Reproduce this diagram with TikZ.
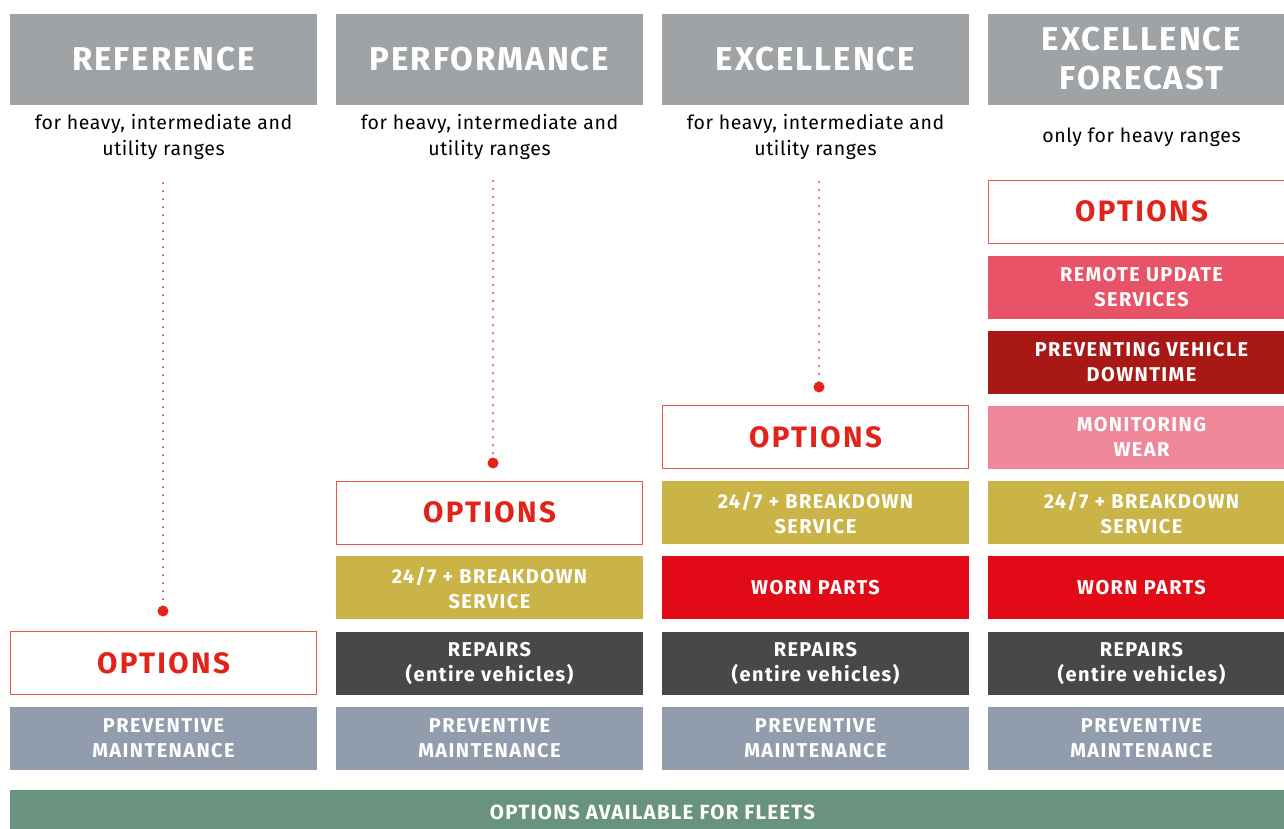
\documentclass[tikz,border=0pt]{standalone}
\usepackage{fontspec}
\setmainfont{Fira Sans}
\definecolor{hdr}{HTML}{A0A3A6}
\definecolor{prev}{HTML}{919CAD}
\definecolor{rep}{HTML}{474848}
\definecolor{worn}{HTML}{E20A17}
\definecolor{gold}{HTML}{CBB447}
\definecolor{monit}{HTML}{EE8799}
\definecolor{prevd}{HTML}{A81916}
\definecolor{remote}{HTML}{E85368}
\definecolor{optred}{HTML}{E2231A}
\definecolor{optborder}{HTML}{E8554F}
\definecolor{fleet}{HTML}{69937E}
\tikzset{
  x=1pt,y=-1pt,
  box/.style={minimum width=307pt,minimum height=63pt,inner sep=0pt,align=center,text=white,
    font=\fontsize{20}{25}\selectfont\bfseries\addfontfeatures{LetterSpace=7}},
  hbox/.style={minimum width=307pt,minimum height=91pt,inner sep=0pt,align=center,fill=hdr,text=white,
    font=\fontsize{33}{39}\selectfont\bfseries\addfontfeatures{LetterSpace=6}},
  optbox/.style={minimum width=306pt,minimum height=63pt,inner sep=0pt,draw=optborder,line width=1pt,fill=white,
    text=optred,font=\fontsize{29.5}{36}\selectfont\bfseries\addfontfeatures{LetterSpace=8}},
  sub/.style={align=center,font=\fontsize{19.5}{26}\selectfont\addfontfeatures{LetterSpace=3},text=black},
  dotline/.style={draw=optred,line width=2pt,dash pattern=on 0pt off 8pt,line cap=round},
  enddot/.style={fill=optred},
}
\begin{document}
\begin{tikzpicture}
\clip (0,0) rectangle (1284,828);
\fill[white] (0,0) rectangle (1284,828);
% headers
\node[hbox] (h1) at (163.5,59) {REFERENCE};
\node[hbox] (h2) at (489.5,59) {PERFORMANCE};
\node[hbox] (h3) at (815.5,59) {EXCELLENCE};
\node[hbox] (h4) at (1141.5,59) {EXCELLENCE\\FORECAST};
% subtitles
\node[sub] (s1) at (163.5,137) {for heavy, intermediate and\\utility ranges};
\node[sub] (s2) at (489.5,137) {for heavy, intermediate and\\utility ranges};
\node[sub] (s3) at (815.5,137) {for heavy, intermediate and\\utility ranges};
\node[sub] (s4) at (1141.5,137) {only for heavy ranges};
% column 1
\node[box,fill=prev] (p1) at (163.5,738.5) {PREVENTIVE\\MAINTENANCE};
\node[optbox] (o1) at (163.5,663) {OPTIONS};
% column 2
\node[box,fill=prev] (p2) at (489.5,738.5) {PREVENTIVE\\MAINTENANCE};
\node[box,fill=rep] (r2) at (489.5,663) {REPAIRS\\(entire vehicles)};
\node[box,fill=gold] (g2) at (489.5,587.5) {24/7 + BREAKDOWN\\SERVICE};
\node[optbox] (o2) at (489.5,512.5) {OPTIONS};
% column 3
\node[box,fill=prev] (p3) at (815.5,738.5) {PREVENTIVE\\MAINTENANCE};
\node[box,fill=rep] (r3) at (815.5,663) {REPAIRS\\(entire vehicles)};
\node[box,fill=worn] (w3) at (815.5,587.5) {WORN PARTS};
\node[box,fill=gold] (g3) at (815.5,512.5) {24/7 + BREAKDOWN\\SERVICE};
\node[optbox] (o3) at (815.5,437) {OPTIONS};
% column 4
\node[box,fill=prev] (p4) at (1141.5,738.5) {PREVENTIVE\\MAINTENANCE};
\node[box,fill=rep] (r4) at (1141.5,663) {REPAIRS\\(entire vehicles)};
\node[box,fill=worn] (w4) at (1141.5,587.5) {WORN PARTS};
\node[box,fill=gold] (g4) at (1141.5,512.5) {24/7 + BREAKDOWN\\SERVICE};
\node[box,fill=monit] (m4) at (1141.5,437) {MONITORING\\WEAR};
\node[box,fill=prevd] (v4) at (1141.5,362.5) {PREVENTING VEHICLE\\DOWNTIME};
\node[box,fill=remote] (u4) at (1141.5,287.5) {REMOTE UPDATE\\SERVICES};
\node[optbox] (o4) at (1141.5,211.5) {OPTIONS};
% fleet bar
\node[box,fill=fleet,minimum width=1285pt,minimum height=44pt,
  font=\fontsize{20.5}{25}\selectfont\bfseries\addfontfeatures{LetterSpace=6}] (fl) at (652.5,812) {OPTIONS AVAILABLE FOR FLEETS};
% dotted connectors
\coordinate (t1) at (163,183);
\coordinate (e1) at (163,611);
\coordinate (t2) at (493,181);
\coordinate (e2) at (493,463);
\coordinate (t3) at (819,182);
\coordinate (e3) at (819,387);
\draw[dotline] (t1) -- (e1);
\draw[dotline] (t2) -- (e2);
\draw[dotline] (t3) -- (e3);
\fill[enddot] (e1) circle (5.5);
\fill[enddot] (e2) circle (5.5);
\fill[enddot] (e3) circle (5.5);
\end{tikzpicture}
\end{document}
